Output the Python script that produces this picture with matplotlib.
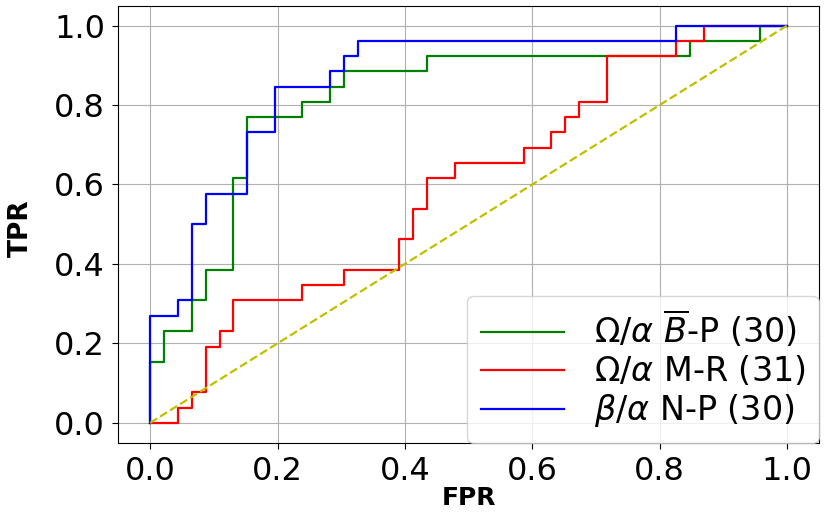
import numpy as np
import matplotlib
matplotlib.use('Agg')
import matplotlib.pyplot as plt

# ROC points
fpr_bp = [0, 0, 0.022, 0.022, 0.065, 0.065, 0.087, 0.087, 0.130, 0.130, 0.152, 0.152,
          0.239, 0.239, 0.283, 0.283, 0.304, 0.304, 0.435, 0.435, 0.848, 0.848,
          0.957, 0.957, 1.0]
tpr_bp = [0, 0.154, 0.154, 0.231, 0.231, 0.308, 0.308, 0.385, 0.385, 0.615, 0.615, 0.769,
          0.769, 0.808, 0.808, 0.846, 0.846, 0.885, 0.885, 0.923, 0.923, 0.962,
          0.962, 1.0, 1.0]

fpr_mr = [0, 0.043, 0.043, 0.065, 0.065, 0.087, 0.087, 0.109, 0.109, 0.130, 0.130,
          0.239, 0.239, 0.304, 0.304, 0.391, 0.391, 0.413, 0.413, 0.435, 0.435,
          0.478, 0.478, 0.587, 0.587, 0.630, 0.630, 0.652, 0.652, 0.674, 0.674,
          0.717, 0.717, 0.826, 0.826, 0.870, 0.870, 1.0]
tpr_mr = [0, 0, 0.038, 0.038, 0.077, 0.077, 0.192, 0.192, 0.231, 0.231, 0.308,
          0.308, 0.346, 0.346, 0.385, 0.385, 0.462, 0.462, 0.538, 0.538, 0.615,
          0.615, 0.654, 0.654, 0.692, 0.692, 0.731, 0.731, 0.769, 0.769, 0.808,
          0.808, 0.923, 0.923, 0.962, 0.962, 1.0, 1.0]

fpr_np = [0, 0, 0.043, 0.043, 0.065, 0.065, 0.087, 0.087, 0.152, 0.152, 0.196, 0.196,
          0.283, 0.283, 0.304, 0.304, 0.326, 0.326, 0.826, 0.826, 1.0]
tpr_np = [0, 0.269, 0.269, 0.308, 0.308, 0.5, 0.5, 0.577, 0.577, 0.731, 0.731, 0.846,
          0.846, 0.885, 0.885, 0.923, 0.923, 0.962, 0.962, 1.0, 1.0]

labels = [r'$\Omega/\alpha$ $\overline{B}$-P (30)', r'$\Omega/\alpha$ M-R (31)',
          r'$\beta/\alpha$ N-P (30)']
ticks = [0.0, 0.2, 0.4, 0.6, 0.8, 1.0]

fig = plt.figure(figsize=(8.3, 5.14), dpi=100)
ax = fig.add_axes([0.1425, 0.1387, 0.8442, 0.8503])

ax.plot(fpr_bp, tpr_bp, 'g', lw=1.6, label=labels[0])
ax.plot(fpr_mr, tpr_mr, 'r', lw=1.6, label=labels[1])
ax.plot(fpr_np, tpr_np, 'b', lw=1.6, label=labels[2])
ax.plot([0, 1], [0, 1], 'y--', lw=1.6)

ax.set_xticks(ticks)
ax.set_yticks(ticks)
ax.tick_params(labelsize=23, length=4.5, pad=5)
ax.grid(True)
ax.set_xlabel('FPR', fontsize=18, fontweight='bold')
ax.set_ylabel('TPR', fontsize=19, fontweight='bold')
ax.xaxis.set_label_coords(0.5, -0.098)
ax.yaxis.set_label_coords(-0.12, 0.49)
ax.legend(loc='lower right', fontsize=24, handlelength=2.5, handletextpad=0.9,
          borderpad=0.4, labelspacing=0.12, borderaxespad=0)

fig.savefig('out.png', dpi=100)
